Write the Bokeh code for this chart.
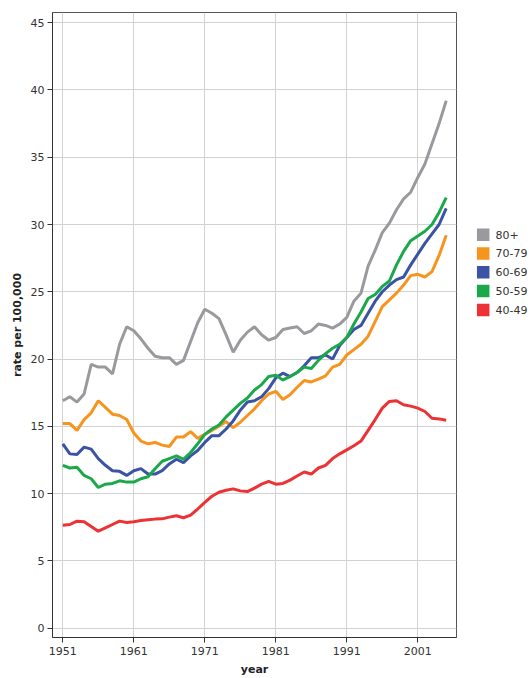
from bokeh.plotting import figure
from bokeh.models import Range1d, FixedTicker
from bokeh.layouts import row
from bokeh.core.properties import value
from bokeh.embed import file_html
from bokeh.resources import INLINE

years = list(range(1951, 2006))

rate_80_plus = [16.9, 17.2, 16.8, 17.4, 19.6, 19.4, 19.4, 18.9, 21.1, 22.4,
                22.1, 21.5, 20.8, 20.2, 20.1, 20.1, 19.6, 19.9, 21.3, 22.7,
                23.7, 23.4, 23.0, 21.8, 20.5, 21.4, 22.0, 22.4, 21.8, 21.4,
                21.6, 22.2, 22.3, 22.4, 21.9, 22.1, 22.6, 22.5, 22.3, 22.6,
                23.1, 24.3, 24.9, 26.9, 28.1, 29.4, 30.1, 31.1, 31.9, 32.4,
                33.5, 34.5, 36.0, 37.5, 39.2]

rate_70_79 = [15.2, 15.2, 14.7, 15.5, 16.0, 16.9, 16.4, 15.9, 15.8, 15.5,
              14.5, 13.9, 13.7, 13.8, 13.6, 13.5, 14.2, 14.2, 14.6, 14.1,
              14.4, 14.7, 15.0, 15.35, 14.9, 15.3, 15.8, 16.3, 16.9, 17.4,
              17.6, 17.0, 17.35, 17.9, 18.4, 18.3, 18.5, 18.75, 19.4, 19.6,
              20.3, 20.7, 21.1, 21.7, 22.8, 23.9, 24.4, 24.9, 25.5, 26.2,
              26.3, 26.1, 26.5, 27.7, 29.2]

rate_60_69 = [13.7, 12.95, 12.9, 13.45, 13.3, 12.6, 12.1, 11.7, 11.65, 11.35,
              11.7, 11.85, 11.45, 11.45, 11.7, 12.2, 12.55, 12.3, 12.8, 13.2,
              13.8, 14.3, 14.3, 14.8, 15.4, 16.2, 16.8, 16.9, 17.2, 17.8,
              18.6, 18.95, 18.7, 19.0, 19.5, 20.1, 20.1, 20.3, 20.0, 21.0,
              21.6, 22.2, 22.5, 23.4, 24.3, 25.0, 25.5, 25.9, 26.1, 27.0,
              27.8, 28.6, 29.3, 30.0, 31.2]

rate_50_59 = [12.1, 11.9, 11.95, 11.35, 11.1, 10.45, 10.7, 10.75, 10.95, 10.85,
              10.85, 11.1, 11.25, 11.85, 12.4, 12.6, 12.8, 12.55, 13.05, 13.7,
              14.4, 14.8, 15.1, 15.7, 16.2, 16.7, 17.1, 17.7, 18.1, 18.7,
              18.8, 18.45, 18.7, 19.0, 19.4, 19.3, 19.9, 20.4, 20.8, 21.1,
              21.6, 22.6, 23.5, 24.5, 24.8, 25.4, 25.8, 27.0, 28.0, 28.8,
              29.15, 29.5, 30.0, 30.9, 32.0]

rate_40_49 = [7.65, 7.7, 7.95, 7.9, 7.55, 7.2, 7.45, 7.7, 7.95, 7.85,
              7.9, 8.0, 8.05, 8.1, 8.12, 8.25, 8.35, 8.2, 8.4, 8.85,
              9.35, 9.8, 10.1, 10.25, 10.35, 10.2, 10.15, 10.4, 10.7, 10.9,
              10.7, 10.75, 11.0, 11.3, 11.6, 11.45, 11.9, 12.1, 12.6, 12.95,
              13.25, 13.55, 13.9, 14.7, 15.5, 16.35, 16.85, 16.9, 16.6, 16.5,
              16.35, 16.1, 15.6, 15.55, 15.45]

series_labels = ["80+", "70-79", "60-69", "50-59", "40-49"]
series_values = [rate_80_plus, rate_70_79, rate_60_69, rate_50_59, rate_40_49]
series_colors = ["#9a9a9e", "#f7941e", "#3a53a4", "#1ba84b", "#ee3134"]

x_ticks = [1951, 1961, 1971, 1981, 1991, 2001]
y_ticks = [0, 5, 10, 15, 20, 25, 30, 35, 40, 45]

FONT = "DejaVu Sans"
TXT = "#333333"
H = 678

p = figure(width=471, height=H, output_backend="svg", toolbar_location=None,
           x_range=Range1d(1949.55, 2006.45), y_range=Range1d(-0.7, 45.76),
           min_border_left=52, min_border_right=15, min_border_top=12,
           min_border_bottom=41)

p.background_fill_color = "white"
p.border_fill_color = "white"
p.outline_line_color = "#555555"
p.outline_line_width = 1

p.xaxis.ticker = FixedTicker(ticks=x_ticks)
p.yaxis.ticker = FixedTicker(ticks=y_ticks)
p.xgrid.ticker = FixedTicker(ticks=x_ticks)
p.ygrid.ticker = FixedTicker(ticks=y_ticks)
for g in (p.xgrid, p.ygrid):
    g.grid_line_color = "#d2d2d2"
    g.grid_line_width = 1

for ax in (p.xaxis, p.yaxis):
    ax.axis_line_color = "#333333"
    ax.major_tick_line_color = "#333333"
    ax.major_tick_out = 5
    ax.major_tick_in = 0
    ax.minor_tick_line_color = None
    ax.major_label_text_font = FONT
    ax.major_label_text_font_size = "11px"
    ax.major_label_text_color = TXT
    ax.major_label_standoff = 3
    ax.axis_label_text_font = FONT
    ax.axis_label_text_font_size = "11px"
    ax.axis_label_text_font_style = "bold"
    ax.axis_label_text_color = "#222222"

p.xaxis.major_label_standoff = 4
p.yaxis.axis_label = "rate per 100,000"
p.yaxis.axis_label_standoff = 4
p.xaxis.axis_label = "year"
p.xaxis.axis_label_standoff = 5

for vals, col in zip(series_values, series_colors):
    p.line(years, vals, line_color=col, line_width=3)

# legend panel as a separate small figure
LW = 59
leg = figure(width=LW, height=H, output_backend="svg", toolbar_location=None,
             x_range=Range1d(0, LW), y_range=Range1d(H, 0),
             x_axis_type=None, y_axis_type=None,
             min_border_left=0, min_border_right=0, min_border_top=0, min_border_bottom=0)
leg.outline_line_color = None
leg.xgrid.visible = False
leg.ygrid.visible = False
leg.background_fill_color = "white"
leg.border_fill_color = "white"

row_top = 241.0
row_pitch = 20.4
leg_y = [row_top + i * row_pitch for i in range(len(series_labels))]
leg.scatter(x=[11.7] * len(series_labels), y=leg_y, marker="square", size=12.5,
            fill_color=series_colors, line_color=None)
leg.text(x=[24] * len(series_labels), y=leg_y, text=series_labels,
         text_baseline="middle", text_align="left",
         text_font=value(FONT), text_font_size="11px", text_color=TXT)

layout = row(p, leg, spacing=0)
open("out.html", "w").write(file_html(layout, INLINE))
